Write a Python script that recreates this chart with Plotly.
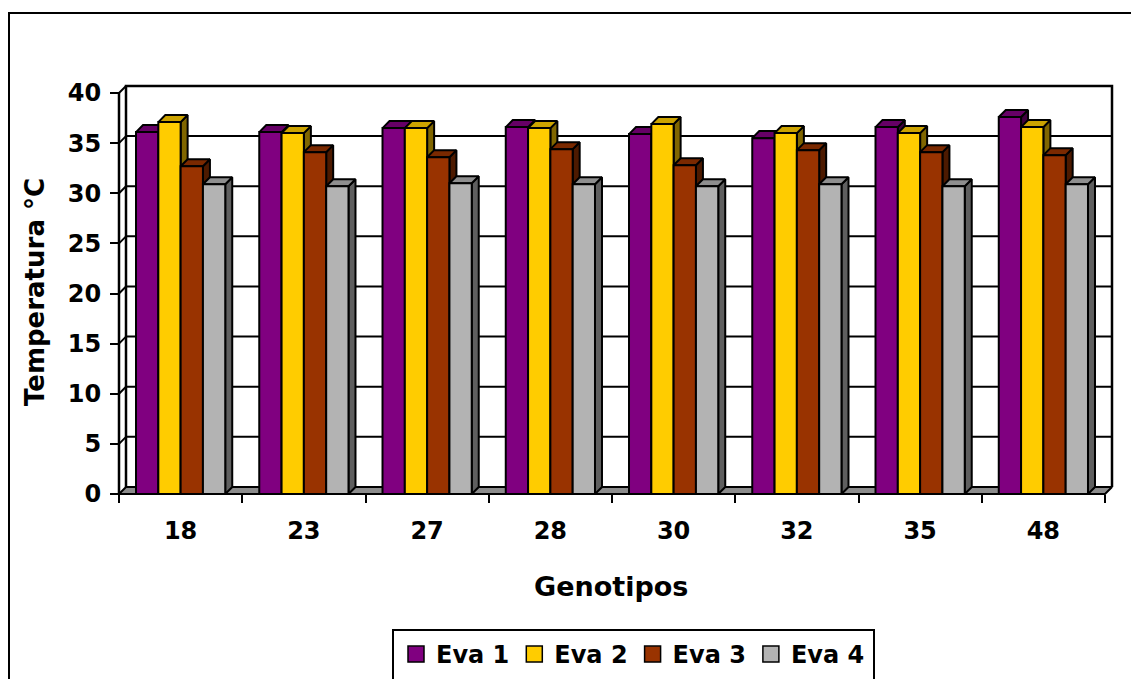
import plotly.graph_objects as go

# ---- data -------------------------------------------------------------
genotipos = ["18", "23", "27", "28", "30", "32", "35", "48"]
eva1 = [36.1, 36.1, 36.5, 36.6, 35.9, 35.5, 36.6, 37.6]
eva2 = [37.1, 36.0, 36.5, 36.5, 36.9, 36.0, 36.0, 36.6]
eva3 = [32.7, 34.1, 33.6, 34.4, 32.8, 34.3, 34.1, 33.8]
eva4 = [30.9, 30.7, 31.0, 30.9, 30.7, 30.9, 30.7, 30.9]
series_names = ["Eva 1", "Eva 2", "Eva 3", "Eva 4"]
y_ticks = [0, 5, 10, 15, 20, 25, 30, 35, 40]

# ---- styling ----------------------------------------------------------
front_colors = ["#800080", "#FFCC00", "#993300", "#B3B3B3"]
top_colors = ["#660066", "#CCA300", "#7A2900", "#8F8F8F"]
side_colors = ["#400040", "#806600", "#4D1A00", "#5F5F5F"]
FONT = "DejaVu Sans"

W, H = 1131, 679
# pixel frame of the chart box (front-left corner, back wall top/right)
FRONT_LEFT, BACK_RIGHT, BACK_TOP, FRONT_BOTTOM = 119, 1112, 86, 494
PAD = 3
PL, PR, PT, PB = FRONT_LEFT - PAD, BACK_RIGHT + PAD, BACK_TOP - PAD, FRONT_BOTTOM + PAD

n = len(genotipos)
Y_MAX = 40
DX = 0.0568          # depth offset in category units
DY = 0.7             # depth offset in value units
BW = 0.181           # bar width in category units

ppc = (BACK_RIGHT - FRONT_LEFT) / (n + DX)
ppu = (FRONT_BOTTOM - BACK_TOP) / (Y_MAX + DY)
x_range = [-0.5 - PAD / ppc, n - 0.5 + DX + PAD / ppc]
y_range = [-PAD / ppu, Y_MAX + DY + PAD / ppu]


def px_x(px):
    return (px - PL) / (PR - PL)


def px_y(py):
    return (PB - py) / (PB - PT)


fig = go.Figure()

# floor slab
x0f, x1f = -0.5, n - 0.5
fig.add_trace(go.Scatter(
    x=[x0f, x1f, x1f + DX, x0f + DX, x0f], y=[0, 0, DY, DY, 0],
    mode="lines", fill="toself", fillcolor="#8C8C8C",
    line=dict(color="black", width=2), hoverinfo="skip", showlegend=False))

# gridlines on back wall and left wall
gx, gy = [], []
for v in y_ticks[1:]:
    gx += [x0f + DX, x1f + DX, None, x0f, x0f + DX, None]
    gy += [v + DY, v + DY, None, v, v + DY, None]
fig.add_trace(go.Scatter(x=gx, y=gy, mode="lines",
                         line=dict(color="black", width=2),
                         hoverinfo="skip", showlegend=False))

# wall edges
fig.add_trace(go.Scatter(
    x=[x0f, x0f, None, x0f + DX, x0f + DX, x1f + DX, x1f + DX],
    y=[0, Y_MAX, None, DY, Y_MAX + DY, Y_MAX + DY, DY],
    mode="lines", line=dict(color="black", width=2.5),
    hoverinfo="skip", showlegend=False))

# 3D bars: side, top and front faces, series drawn left to right
series = [eva1, eva2, eva3, eva4]
for s, vals in enumerate(series):
    fx, fy, tx, ty, sx, sy = [], [], [], [], [], []
    for k, h in enumerate(vals):
        xc = k + (s - 1.5) * BW
        a, b = xc - BW / 2, xc + BW / 2
        fx += [a, b, b, a, a, None]
        fy += [0, 0, h, h, 0, None]
        tx += [a, b, b + DX, a + DX, a, None]
        ty += [h, h, h + DY, h + DY, h, None]
        sx += [b, b + DX, b + DX, b, b, None]
        sy += [0, DY, h + DY, h, 0, None]
    for xs, ys, col in ((sx, sy, side_colors[s]), (tx, ty, top_colors[s]),
                        (fx, fy, front_colors[s])):
        fig.add_trace(go.Scatter(x=xs, y=ys, mode="lines", fill="toself",
                                 fillcolor=col,
                                 line=dict(color="black", width=2),
                                 hoverinfo="skip", showlegend=False))

# legend entries
for s, name in enumerate(series_names):
    fig.add_trace(go.Scatter(
        x=[None], y=[None], mode="markers", name=name,
        marker=dict(symbol="square", size=16, color=front_colors[s],
                    line=dict(color="black", width=1.5))))

fig.update_layout(
    width=W, height=H,
    margin=dict(l=PL, r=W - PR, t=PT, b=H - PB, pad=0, autoexpand=False),
    paper_bgcolor="white", plot_bgcolor="white",
    font=dict(family=FONT, size=24, color="black", weight="bold"),
    xaxis=dict(
        range=x_range, type="linear", showgrid=False, zeroline=False,
        showline=False, tickmode="array", tickvals=list(range(n)),
        ticktext=genotipos, ticks="", ticklabelstandoff=20,
        tickfont=dict(family=FONT, size=24, weight="bold"),
        anchor="free", position=px_y(FRONT_BOTTOM), automargin=False,
        minor=dict(tickmode="array", tickvals=[k - 0.5 for k in range(n + 1)],
                   ticks="outside", ticklen=8, tickwidth=2, tickcolor="black",
                   showgrid=False)),
    yaxis=dict(
        range=y_range, showgrid=False, zeroline=False, showline=False,
        tickmode="array", tickvals=y_ticks, ticks="outside", ticklen=9,
        tickwidth=2, tickcolor="black", ticklabelstandoff=4,
        tickfont=dict(family=FONT, size=24, weight="bold"),
        anchor="free", position=px_x(FRONT_LEFT), automargin=False),
    showlegend=True,
    legend=dict(orientation="h", x=px_x(396), y=px_y(632),
                xanchor="left", yanchor="top", bgcolor="rgba(0,0,0,0)",
                font=dict(family=FONT, size=24, weight="bold"),
                itemclick=False, tracegroupgap=0),
    annotations=[
        dict(text="Genotipos", x=px_x(611), y=px_y(586), xref="paper",
             yref="paper", showarrow=False, xanchor="center", yanchor="middle",
             font=dict(family=FONT, size=27, weight="bold")),
        dict(text="Temperatura °C", x=px_x(35), y=px_y(292), xref="paper",
             yref="paper", showarrow=False, textangle=-90, xanchor="center",
             yanchor="middle", font=dict(family=FONT, size=26, weight="bold")),
    ],
    shapes=[
        dict(type="rect", xref="paper", yref="paper", x0=px_x(9), y0=px_y(13),
             x1=px_x(1145), y1=px_y(695), line=dict(color="black", width=2)),
        dict(type="rect", xref="paper", yref="paper", x0=px_x(393),
             y0=px_y(630), x1=px_x(874), y1=px_y(695),
             line=dict(color="black", width=2)),
    ],
)

fig.write_html("out.html")
